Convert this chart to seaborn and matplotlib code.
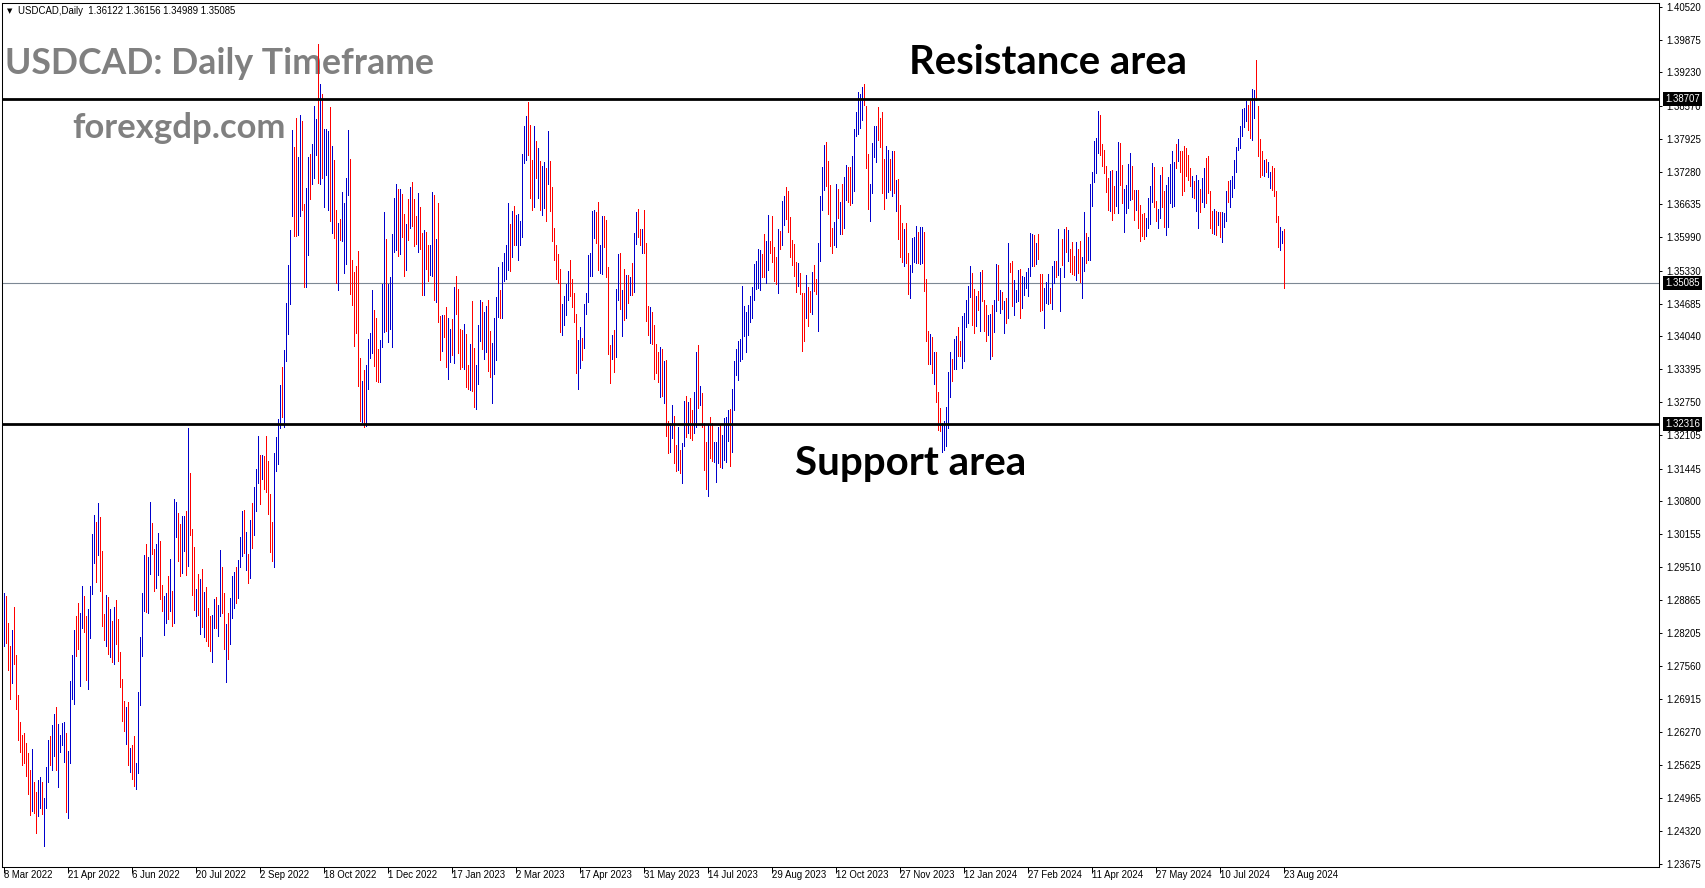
import numpy as np
import pandas as pd
import matplotlib
matplotlib.use("Agg")
import matplotlib.pyplot as plt
import seaborn as sns

# ---------------- data ----------------
symbol_header = "USDCAD,Daily  1.36122 1.36156 1.34989 1.35085"
title_text = "USDCAD: Daily Timeframe"
site_text = "forexgdp.com"
resistance_label = "Resistance area"
support_label = "Support area"

resistance_level = 1.38707
support_level = 1.32316
last_price = 1.35085

date_labels = ["8 Mar 2022", "21 Apr 2022", "6 Jun 2022", "20 Jul 2022", "2 Sep 2022",
               "18 Oct 2022", "1 Dec 2022", "17 Jan 2023", "2 Mar 2023", "17 Apr 2023",
               "31 May 2023", "14 Jul 2023", "29 Aug 2023", "12 Oct 2023", "27 Nov 2023",
               "12 Jan 2024", "27 Feb 2024", "11 Apr 2024", "27 May 2024", "10 Jul 2024",
               "23 Aug 2024"]
bars_per_date_label = 32

price_ticks = [1.40520, 1.39875, 1.39230, 1.38570, 1.37925, 1.37280, 1.36635, 1.35990,
               1.35330, 1.34685, 1.34040, 1.33395, 1.32750, 1.32105, 1.31445, 1.30800,
               1.30155, 1.29510, 1.28865, 1.28205, 1.27560, 1.26915, 1.26270, 1.25625,
               1.24965, 1.24320, 1.23675]

bar_high = [
    1.2900, 1.2894, 1.2841, 1.2795, 1.2828, 1.2872, 1.2778, 1.2700, 1.2647, 1.2621,
    1.2624, 1.2605, 1.2585, 1.2552, 1.2593, 1.2529, 1.2508, 1.2533, 1.2539, 1.2528,
    1.2497, 1.2558, 1.2611, 1.2619, 1.2641, 1.2662, 1.2676, 1.2642, 1.2621, 1.2644,
    1.2646, 1.2624, 1.2590, 1.2727, 1.2778, 1.2828, 1.2855, 1.2880, 1.2860, 1.2914,
    1.2894, 1.2854, 1.2868, 1.2914, 1.3016, 1.3054, 1.3039, 1.3077, 1.3049, 1.2982,
    1.2859, 1.2896, 1.2892, 1.2868, 1.2845, 1.2872, 1.2886, 1.2849, 1.2784, 1.2731,
    1.2688, 1.2676, 1.2685, 1.2596, 1.2601, 1.2619, 1.2565, 1.2705, 1.2813, 1.2900,
    1.2975, 1.2996, 1.2970, 1.3078, 1.3037, 1.2987, 1.2996, 1.3018, 1.3002, 1.2916,
    1.2894, 1.2900, 1.2934, 1.2966, 1.2904, 1.3084, 1.3078, 1.3057, 1.3036, 1.3052,
    1.3052, 1.3061, 1.3224, 1.3136, 1.3026, 1.2990, 1.2907, 1.2937, 1.2927, 1.2947,
    1.2902, 1.2911, 1.2870, 1.2855, 1.2857, 1.2888, 1.2892, 1.2876, 1.2985, 1.2951,
    1.2900, 1.2840, 1.2860, 1.2890, 1.2934, 1.2941, 1.2951, 1.2965, 1.3010, 1.3062,
    1.3063, 1.3019, 1.2976, 1.3043, 1.3077, 1.3108, 1.3143, 1.3209, 1.3171, 1.3172,
    1.3169, 1.3209, 1.3160, 1.3094, 1.3039, 1.3176, 1.3207, 1.3241, 1.3309, 1.3345,
    1.3377, 1.3469, 1.3545, 1.3614, 1.3810, 1.3777, 1.3834, 1.3757, 1.3840, 1.3827,
    1.3665, 1.3696, 1.3757, 1.3763, 1.3783, 1.3856, 1.3832, 1.3979, 1.3900, 1.3881,
    1.3812, 1.3812, 1.3808, 1.3855, 1.3778, 1.3750, 1.3653, 1.3627, 1.3634, 1.3687,
    1.3667, 1.3716, 1.3810, 1.3753, 1.3555, 1.3531, 1.3543, 1.3572, 1.3362, 1.3317,
    1.3338, 1.3348, 1.3400, 1.3410, 1.3496, 1.3457, 1.3440, 1.3379, 1.3398, 1.3507,
    1.3648, 1.3595, 1.3508, 1.3521, 1.3605, 1.3677, 1.3703, 1.3693, 1.3693, 1.3684,
    1.3645, 1.3626, 1.3674, 1.3698, 1.3707, 1.3674, 1.3640, 1.3686, 1.3658, 1.3608,
    1.3614, 1.3610, 1.3583, 1.3584, 1.3687, 1.3682, 1.3596, 1.3667, 1.3445, 1.3447,
    1.3447, 1.3461, 1.3441, 1.3419, 1.3439, 1.3502, 1.3522, 1.3498, 1.3419, 1.3416,
    1.3429, 1.3409, 1.3348, 1.3389, 1.3473, 1.3382, 1.3348, 1.3427, 1.3476, 1.3471,
    1.3453, 1.3464, 1.3475, 1.3415, 1.3392, 1.3441, 1.3481, 1.3540, 1.3496, 1.3551,
    1.3569, 1.3583, 1.3667, 1.3625, 1.3650, 1.3661, 1.3643, 1.3645, 1.3630, 1.3763,
    1.3817, 1.3838, 1.3864, 1.3819, 1.3751, 1.3817, 1.3789, 1.3775, 1.3749, 1.3739,
    1.3746, 1.3736, 1.3807, 1.3748, 1.3697, 1.3618, 1.3583, 1.3566, 1.3537, 1.3468,
    1.3484, 1.3507, 1.3532, 1.3555, 1.3517, 1.3490, 1.3448, 1.3397, 1.3422, 1.3402,
    1.3468, 1.3490, 1.3564, 1.3569, 1.3650, 1.3653, 1.3648, 1.3669, 1.3584, 1.3640,
    1.3641, 1.3633, 1.3541, 1.3387, 1.3407, 1.3416, 1.3498, 1.3566, 1.3569, 1.3496,
    1.3537, 1.3525, 1.3525, 1.3520, 1.3549, 1.3607, 1.3648, 1.3655, 1.3616, 1.3616,
    1.3653, 1.3587, 1.3463, 1.3462, 1.3452, 1.3427, 1.3390, 1.3373, 1.3384, 1.3379,
    1.3355, 1.3357, 1.3237, 1.3234, 1.3270, 1.3247, 1.3190, 1.3227, 1.3180, 1.3194,
    1.3278, 1.3287, 1.3275, 1.3283, 1.3260, 1.3294, 1.3374, 1.3388, 1.3306, 1.3293,
    1.3234, 1.3196, 1.3230, 1.3245, 1.3234, 1.3196, 1.3196, 1.3227, 1.3230, 1.3211,
    1.3243, 1.3245, 1.3260, 1.3262, 1.3300, 1.3355, 1.3380, 1.3395, 1.3399, 1.3504,
    1.3464, 1.3452, 1.3466, 1.3483, 1.3502, 1.3547, 1.3553, 1.3576, 1.3574, 1.3566,
    1.3606, 1.3592, 1.3642, 1.3591, 1.3640, 1.3579, 1.3560, 1.3615, 1.3612, 1.3671,
    1.3681, 1.3697, 1.3690, 1.3638, 1.3594, 1.3586, 1.3551, 1.3549, 1.3529, 1.3490,
    1.3489, 1.3525, 1.3502, 1.3494, 1.3530, 1.3545, 1.3517, 1.3587, 1.3680, 1.3738,
    1.3781, 1.3787, 1.3748, 1.3702, 1.3617, 1.3629, 1.3703, 1.3694, 1.3669, 1.3703,
    1.3717, 1.3741, 1.3737, 1.3738, 1.3758, 1.3812, 1.3846, 1.3884, 1.3881, 1.3895,
    1.3901, 1.3857, 1.3763, 1.3704, 1.3784, 1.3817, 1.3818, 1.3855, 1.3833, 1.3846,
    1.3753, 1.3779, 1.3771, 1.3753, 1.3768, 1.3768, 1.3712, 1.3714, 1.3663, 1.3627,
    1.3615, 1.3627, 1.3568, 1.3545, 1.3597, 1.3599, 1.3622, 1.3610, 1.3620, 1.3620,
    1.3609, 1.3517, 1.3414, 1.3409, 1.3403, 1.3373, 1.3373, 1.3294, 1.3263, 1.3234,
    1.3237, 1.3265, 1.3334, 1.3374, 1.3359, 1.3399, 1.3405, 1.3422, 1.3395, 1.3445,
    1.3451, 1.3476, 1.3504, 1.3543, 1.3529, 1.3498, 1.3484, 1.3494, 1.3530, 1.3534,
    1.3476, 1.3466, 1.3447, 1.3449, 1.3466, 1.3476, 1.3546, 1.3545, 1.3496, 1.3492,
    1.3473, 1.3479, 1.3587, 1.3549, 1.3553, 1.3515, 1.3496, 1.3535, 1.3536, 1.3522,
    1.3520, 1.3530, 1.3538, 1.3607, 1.3606, 1.3603, 1.3587, 1.3605, 1.3527, 1.3527,
    1.3499, 1.3512, 1.3527, 1.3500, 1.3543, 1.3553, 1.3553, 1.3615, 1.3538, 1.3595,
    1.3615, 1.3620, 1.3614, 1.3575, 1.3590, 1.3562, 1.3589, 1.3576, 1.3591, 1.3560,
    1.3648, 1.3608, 1.3599, 1.3704, 1.3728, 1.3789, 1.3794, 1.3848, 1.3840, 1.3782,
    1.3770, 1.3739, 1.3716, 1.3730, 1.3732, 1.3699, 1.3730, 1.3786, 1.3784, 1.3741,
    1.3694, 1.3702, 1.3743, 1.3764, 1.3739, 1.3692, 1.3692, 1.3692, 1.3663, 1.3644,
    1.3646, 1.3637, 1.3676, 1.3699, 1.3745, 1.3738, 1.3671, 1.3655, 1.3722, 1.3738,
    1.3689, 1.3702, 1.3718, 1.3743, 1.3769, 1.3747, 1.3782, 1.3792, 1.3768, 1.3768,
    1.3779, 1.3774, 1.3761, 1.3735, 1.3720, 1.3709, 1.3722, 1.3712, 1.3694, 1.3715,
    1.3735, 1.3754, 1.3758, 1.3689, 1.3650, 1.3654, 1.3650, 1.3648, 1.3648, 1.3648,
    1.3646, 1.3690, 1.3710, 1.3711, 1.3720, 1.3751, 1.3776, 1.3795, 1.3818, 1.3851,
    1.3853, 1.3867, 1.3859, 1.3866, 1.3891, 1.3889, 1.3948, 1.3857, 1.3792, 1.3768,
    1.3751, 1.3753, 1.3746, 1.3728, 1.3739, 1.3735, 1.3690, 1.3640, 1.3620, 1.3612,
    1.36156,
]

bar_low = [
    1.2795, 1.2801, 1.2749, 1.2692, 1.2723, 1.2761, 1.2672, 1.2611, 1.2588, 1.2562,
    1.2565, 1.2541, 1.2506, 1.2464, 1.2472, 1.2467, 1.2429, 1.2462, 1.2477, 1.2465,
    1.2402, 1.2478, 1.2529, 1.2562, 1.2552, 1.2580, 1.2552, 1.2518, 1.2588, 1.2601,
    1.2567, 1.2470, 1.2457, 1.2565, 1.2692, 1.2682, 1.2776, 1.2790, 1.2718, 1.2831,
    1.2824, 1.2729, 1.2712, 1.2812, 1.2898, 1.2959, 1.2921, 1.2975, 1.2903, 1.2835,
    1.2807, 1.2795, 1.2780, 1.2775, 1.2765, 1.2761, 1.2800, 1.2767, 1.2716, 1.2649,
    1.2628, 1.2603, 1.2562, 1.2549, 1.2534, 1.2521, 1.2515, 1.2547, 1.2680, 1.2776,
    1.2865, 1.2862, 1.2860, 1.2938, 1.2977, 1.2904, 1.2909, 1.2936, 1.2888, 1.2864,
    1.2818, 1.2842, 1.2849, 1.2865, 1.2835, 1.2842, 1.3011, 1.2962, 1.2934, 1.2940,
    1.2983, 1.2936, 1.2954, 1.3013, 1.2896, 1.2867, 1.2854, 1.2857, 1.2820, 1.2834,
    1.2814, 1.2806, 1.2795, 1.2787, 1.2765, 1.2832, 1.2832, 1.2816, 1.2854, 1.2860,
    1.2790, 1.2725, 1.2770, 1.2800, 1.2850, 1.2870, 1.2880, 1.2890, 1.2951, 1.2972,
    1.2979, 1.2945, 1.2920, 1.2930, 1.2989, 1.3014, 1.3062, 1.3117, 1.3074, 1.3124,
    1.3105, 1.3098, 1.3056, 1.2980, 1.2963, 1.2951, 1.3139, 1.3154, 1.3224, 1.3245,
    1.3227, 1.3355, 1.3408, 1.3467, 1.3640, 1.3602, 1.3602, 1.3603, 1.3640, 1.3653,
    1.3501, 1.3502, 1.3565, 1.3674, 1.3703, 1.3715, 1.3760, 1.3705, 1.3703, 1.3715,
    1.3658, 1.3721, 1.3652, 1.3630, 1.3607, 1.3598, 1.3509, 1.3495, 1.3593, 1.3592,
    1.3529, 1.3547, 1.3683, 1.3488, 1.3465, 1.3386, 1.3410, 1.3307, 1.3238, 1.3236,
    1.3226, 1.3229, 1.3300, 1.3362, 1.3371, 1.3346, 1.3317, 1.3315, 1.3315, 1.3384,
    1.3412, 1.3414, 1.3394, 1.3419, 1.3384, 1.3571, 1.3574, 1.3562, 1.3567, 1.3600,
    1.3522, 1.3534, 1.3594, 1.3618, 1.3622, 1.3581, 1.3586, 1.3571, 1.3576, 1.3485,
    1.3485, 1.3537, 1.3514, 1.3524, 1.3522, 1.3475, 1.3471, 1.3433, 1.3357, 1.3376,
    1.3403, 1.3345, 1.3321, 1.3353, 1.3368, 1.3351, 1.3448, 1.3372, 1.3340, 1.3345,
    1.3340, 1.3304, 1.3300, 1.3299, 1.3297, 1.3266, 1.3262, 1.3311, 1.3396, 1.3379,
    1.3360, 1.3373, 1.3336, 1.3325, 1.3273, 1.3330, 1.3357, 1.3443, 1.3441, 1.3441,
    1.3513, 1.3517, 1.3535, 1.3533, 1.3561, 1.3584, 1.3583, 1.3555, 1.3583, 1.3600,
    1.3745, 1.3751, 1.3761, 1.3677, 1.3652, 1.3659, 1.3715, 1.3677, 1.3652, 1.3643,
    1.3656, 1.3630, 1.3703, 1.3650, 1.3591, 1.3555, 1.3517, 1.3509, 1.3412, 1.3406,
    1.3426, 1.3446, 1.3476, 1.3483, 1.3461, 1.3432, 1.3333, 1.3300, 1.3343, 1.3358,
    1.3382, 1.3448, 1.3471, 1.3523, 1.3523, 1.3598, 1.3587, 1.3535, 1.3528, 1.3526,
    1.3580, 1.3520, 1.3370, 1.3313, 1.3360, 1.3335, 1.3363, 1.3475, 1.3458, 1.3404,
    1.3437, 1.3441, 1.3469, 1.3485, 1.3485, 1.3492, 1.3586, 1.3600, 1.3583, 1.3568,
    1.3569, 1.3435, 1.3406, 1.3391, 1.3390, 1.3320, 1.3333, 1.3314, 1.3286, 1.3287,
    1.3273, 1.3209, 1.3176, 1.3178, 1.3205, 1.3156, 1.3139, 1.3142, 1.3135, 1.3117,
    1.3188, 1.3206, 1.3214, 1.3204, 1.3201, 1.3215, 1.3227, 1.3264, 1.3270, 1.3227,
    1.3142, 1.3104, 1.3091, 1.3166, 1.3160, 1.3158, 1.3119, 1.3156, 1.3148, 1.3146,
    1.3162, 1.3158, 1.3199, 1.3150, 1.3178, 1.3260, 1.3329, 1.3319, 1.3356, 1.3359,
    1.3404, 1.3373, 1.3407, 1.3432, 1.3440, 1.3475, 1.3497, 1.3499, 1.3496, 1.3521,
    1.3520, 1.3510, 1.3535, 1.3569, 1.3550, 1.3513, 1.3507, 1.3489, 1.3576, 1.3584,
    1.3624, 1.3635, 1.3610, 1.3561, 1.3544, 1.3522, 1.3492, 1.3504, 1.3487, 1.3376,
    1.3396, 1.3440, 1.3424, 1.3452, 1.3448, 1.3494, 1.3488, 1.3415, 1.3553, 1.3653,
    1.3691, 1.3700, 1.3644, 1.3581, 1.3569, 1.3584, 1.3579, 1.3637, 1.3606, 1.3606,
    1.3617, 1.3673, 1.3669, 1.3663, 1.3666, 1.3689, 1.3797, 1.3802, 1.3814, 1.3830,
    1.3858, 1.3736, 1.3654, 1.3630, 1.3686, 1.3757, 1.3746, 1.3791, 1.3777, 1.3686,
    1.3654, 1.3676, 1.3688, 1.3691, 1.3680, 1.3686, 1.3651, 1.3595, 1.3560, 1.3551,
    1.3542, 1.3548, 1.3487, 1.3479, 1.3530, 1.3551, 1.3548, 1.3549, 1.3546, 1.3548,
    1.3494, 1.3395, 1.3350, 1.3350, 1.3332, 1.3311, 1.3275, 1.3221, 1.3219, 1.3178,
    1.3180, 1.3188, 1.3225, 1.3286, 1.3316, 1.3340, 1.3340, 1.3366, 1.3365, 1.3343,
    1.3355, 1.3422, 1.3430, 1.3481, 1.3427, 1.3411, 1.3424, 1.3456, 1.3414, 1.3474,
    1.3414, 1.3396, 1.3406, 1.3359, 1.3365, 1.3412, 1.3454, 1.3476, 1.3451, 1.3458,
    1.3411, 1.3430, 1.3440, 1.3530, 1.3463, 1.3447, 1.3471, 1.3473, 1.3440, 1.3460,
    1.3486, 1.3499, 1.3484, 1.3522, 1.3542, 1.3543, 1.3546, 1.3556, 1.3454, 1.3456,
    1.3420, 1.3470, 1.3468, 1.3470, 1.3458, 1.3509, 1.3520, 1.3524, 1.3455, 1.3545,
    1.3520, 1.3570, 1.3553, 1.3530, 1.3527, 1.3525, 1.3515, 1.3528, 1.3512, 1.3479,
    1.3532, 1.3548, 1.3555, 1.3555, 1.3661, 1.3707, 1.3726, 1.3764, 1.3761, 1.3739,
    1.3725, 1.3687, 1.3653, 1.3650, 1.3633, 1.3646, 1.3660, 1.3646, 1.3702, 1.3666,
    1.3610, 1.3646, 1.3656, 1.3673, 1.3675, 1.3632, 1.3652, 1.3617, 1.3591, 1.3601,
    1.3595, 1.3602, 1.3617, 1.3625, 1.3669, 1.3659, 1.3630, 1.3617, 1.3637, 1.3659,
    1.3620, 1.3603, 1.3620, 1.3666, 1.3659, 1.3661, 1.3735, 1.3748, 1.3728, 1.3682,
    1.3689, 1.3720, 1.3712, 1.3700, 1.3679, 1.3676, 1.3650, 1.3618, 1.3648, 1.3669,
    1.3659, 1.3666, 1.3686, 1.3617, 1.3608, 1.3605, 1.3604, 1.3623, 1.3600, 1.3589,
    1.3620, 1.3630, 1.3668, 1.3659, 1.3679, 1.3696, 1.3728, 1.3770, 1.3774, 1.3797,
    1.3815, 1.3828, 1.3809, 1.3795, 1.3791, 1.3834, 1.3869, 1.3758, 1.3718, 1.3722,
    1.3720, 1.3728, 1.3718, 1.3696, 1.3692, 1.3680, 1.3628, 1.3580, 1.3574, 1.3587,
    1.34989,
]

# B = bullish bar (blue), R = bearish bar (red)
bar_dir = (
    "BRRRBRRRRR" "RRRRBRRBBR" "BBBRBBRBBB" "BRBBBBRRBB" "RRBBBBRBRR"
    "RBRBRBRRRR" "RBRBRRBBBB" "BRBBRRBBRR" "BBRBRBBRRB" "BRBRRRBRBR"
    "BRRRBBRBBR" "RBRBBBRBBB" "RBRBRBBBRB" "RRRRRBBBBR" "BBBBBRRBBR"
    "RBBRBBBRBR" "BBBRBRRBRB" "BBBRRRRRRB" "RBBBBRRRBB" "BRBBBBBRBR"
    "RBRBRRRBRR" "BRRBBRBRRB" "RRBBRBRRRR" "BRRBRRBBBR" "BBRRBBBBRB"
    "BBBRBRBBBB" "BBRRRBRBRB" "BRBRRRRRRB" "BBBRRRRBBR" "BBBBBBRRBB"
    "RRRRBRBBRB" "RBRBRBBRRB" "RRRBRRRRBR" "BRRBBRRBRB" "BRBRRBBRBR"
    "RRBRRBBBRB" "BBBRBBBBBB" "BBBBBBBBBR" "RBBRRRRBRB" "BRRRRRRBRR"
    "RBRRBRRBBB" "BRRRRBBRBR" "BBRRBBBBBB" "RRRBBBBRRR" "RBBRBRBRRR"
    "BRRBBBBRBB" "RRRBRBRRRB" "BBBBRBBRRB" "BBBBRRBRBR" "RRBBRBBRBR"
    "BRBRRBBBRB" "BBBBBRBRRR" "BBBRBBRBBR" "BRBRRRBRRB" "BRBBBBBBRR"
    "RRRBRRBBRR" "BBBBRRBRRR" "RBBBBRRBBR" "RBBBBBRBRR" "RRRRBRBBRB"
    "BRRRRBRBRB" "BBRBBBBBBB" "BBRRBBRRRR" "BRBBRRRRBB" "R"
)

# ---------------- figure ----------------
sns.set_theme(style="ticks")
plt.rcParams["font.family"] = ["Liberation Sans", "DejaVu Sans"]
plt.rcParams["axes.linewidth"] = 0.75

W, H = 1705, 888
fig = plt.figure(figsize=(W / 100, H / 100), dpi=100, facecolor="white")
ax = fig.add_axes([2 / W, (H - 867) / H, 1657 / W, 864 / H], facecolor="white")

n = min(len(bar_high), len(bar_low), len(bar_dir))
df = pd.DataFrame({"bar": np.arange(n), "high": bar_high[:n], "low": bar_low[:n],
                   "dir": list(bar_dir[:n])})
df["color"] = df["dir"].map({"B": "#0000cc", "R": "#ff0000"})

ax.vlines(df["bar"], df["low"], df["high"], colors=df["color"], linewidth=0.68,
          antialiaseds=False, zorder=3)

ax.axhline(last_price, color="#7d8894", lw=0.8, zorder=2)
ax.axhline(resistance_level, color="black", lw=2.0, zorder=4)
ax.axhline(support_level, color="black", lw=2.0, zorder=4)

ax.set_xlim(-0.75, 827.75)
ax.set_ylim(1.23616, 1.40593)

for s in ax.spines.values():
    s.set_color("black")
    s.set_linewidth(0.75)

# right price axis
ax.yaxis.tick_right()
ax.set_yticks(price_ticks)
ax.set_yticklabels([f"{v:.5f}" for v in price_ticks])
ax.tick_params(axis="y", length=2.5, width=0.7, pad=3, labelsize=6.9,
               colors="black", direction="out")

# date axis
tick_pos = [k * bars_per_date_label for k in range(len(date_labels))]
ax.set_xticks(tick_pos)
ax.set_xticklabels([""] * len(tick_pos))
ax.tick_params(axis="x", length=4, width=0.7, direction="out", colors="black")
for p, lab in zip(tick_pos, date_labels):
    ax.annotate(lab, xy=(p, 0), xycoords=("data", "axes fraction"),
                xytext=(0, -3), textcoords="offset pixels", ha="left", va="top",
                fontsize=6.9, color="black", annotation_clip=False)

# price tags
for lvl in (resistance_level, support_level, last_price):
    ax.annotate(f"{lvl:.5f}", xy=(1, lvl), xycoords=("axes fraction", "data"),
                xytext=(6, 0), textcoords="offset pixels", ha="left", va="center",
                fontsize=6.9, color="white", annotation_clip=False,
                bbox=dict(boxstyle="square,pad=0.22", fc="black", ec="none"))

# header
fig.text(7 / W, 1 - 11 / H, "\u25BC", fontsize=5, va="center", ha="left",
         family=["DejaVu Sans"], color="black")
fig.text(18 / W, 1 - 11 / H, symbol_header, fontsize=6.9, va="center", ha="left",
         color="black")

# overlay texts
ax.text(5 / W, 1 - 74 / H, title_text, transform=fig.transFigure, fontsize=25.7,
        fontweight="bold", color="#808080", family=["Lato", "DejaVu Sans"],
        va="baseline", ha="left", zorder=1)
ax.text(72 / W, 1 - 138 / H, site_text, transform=fig.transFigure, fontsize=24.9,
        fontweight="bold", color="#808080", family=["Lato", "DejaVu Sans"],
        va="baseline", ha="left", zorder=1)
ax.text(909 / W, 1 - 74 / H, resistance_label, transform=fig.transFigure,
        fontsize=28.8, fontweight="bold", color="black",
        family=["Lato", "DejaVu Sans"], va="baseline", ha="left", zorder=5)
ax.text(795 / W, 1 - 475 / H, support_label, transform=fig.transFigure,
        fontsize=29.0, fontweight="bold", color="black",
        family=["Lato", "DejaVu Sans"], va="baseline", ha="left", zorder=5)

fig.savefig("out.png", dpi=100, facecolor="white")
